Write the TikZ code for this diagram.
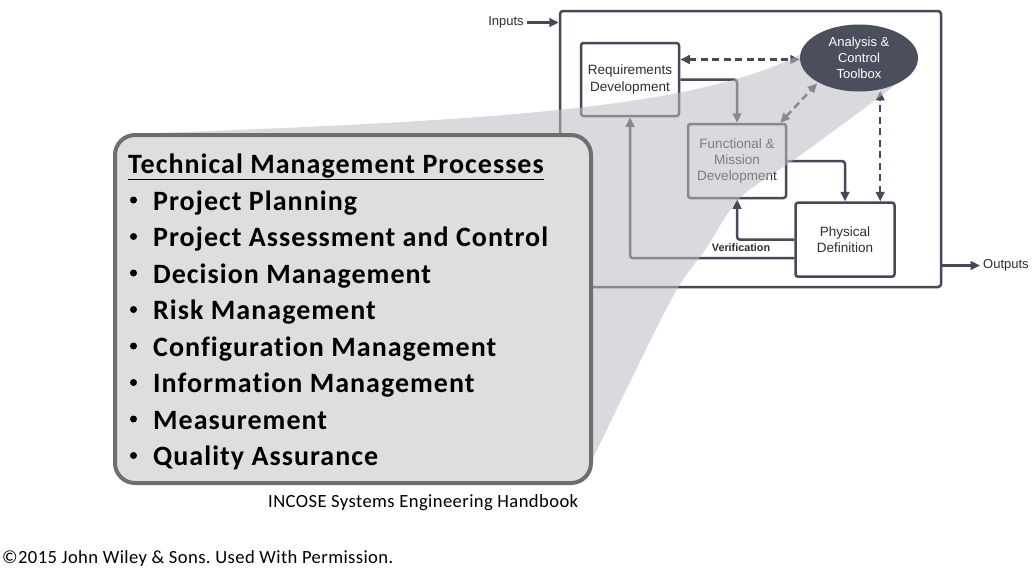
\documentclass[tikz,border=0pt]{standalone}
\usepackage{fontspec}
\setmainfont{Carlito}
\newfontfamily\arialf{Liberation Sans}
\newfontfamily\calw[LetterSpace=3.7,Ligatures=CommonOff]{Carlito}
\newfontfamily\calf[LetterSpace=2.2,Ligatures=CommonOff]{Carlito}
\usetikzlibrary{arrows.meta,shapes.geometric}
\frenchspacing
\definecolor{linec}{RGB}{70,73,86}
\definecolor{ellc}{RGB}{75,78,92}
\definecolor{txtc}{RGB}{45,45,50}
\definecolor{shadc}{RGB}{188,189,196}
\definecolor{boxfill}{RGB}{222,222,222}
\definecolor{boxline}{RGB}{110,110,110}
\tikzset{
  dbox/.style={draw=linec, line width=2.5pt, fill=white, rounded corners=2.5pt, align=center,
    font=\arialf\fontsize{13.5}{16.3}\selectfont, text=txtc, inner sep=0pt},
  arr/.style={draw=linec, line width=2.5pt, -{Triangle[length=9.5pt,width=8.5pt]}, rounded corners=3pt},
  darr/.style={draw=linec, line width=2.5pt, {Triangle[length=9.5pt,width=8.5pt]}-{Triangle[length=9.5pt,width=8.5pt]}, dash pattern=on 7pt off 4.5pt},
  lbl/.style={font=\arialf\fontsize{13}{16}\selectfont, text=txtc, inner sep=0pt},
  item/.style={font=\calw\bfseries\fontsize{28}{30}\selectfont, anchor=base west, inner sep=0pt},
  bul/.style={circle, fill=black, minimum size=7pt, inner sep=0pt},
}
\begin{document}
\frenchspacing
\begin{tikzpicture}[x=1pt,y=-1pt]
\useasboundingbox[fill=white] (0,0) rectangle (1032,568);
% outer frame
\node[draw=linec, line width=2.5pt, rounded corners=3pt, minimum width=381pt, minimum height=276pt, inner sep=0pt] (frame) at (750.5,149) {};
% inputs / outputs
\node[lbl] (inputs) at (506,22.5) {Inputs};
\draw[arr] (inputs.east) ++(3pt,0) -- (frame.west |- inputs);
\node[lbl, anchor=west] (outputs) at (983,265.5) {Outputs};
\draw[arr] (frame.east |- outputs) -- ([xshift=-3pt]outputs.west);
% boxes
\node[dbox, minimum width=98pt, minimum height=73pt] (req) at (630,79.5) {Requirements\\Development};
\node[dbox, minimum width=98pt, minimum height=74pt] (func) at (737,161) {Functional \&\\Mission\\Development};
\node[dbox, minimum width=99pt, minimum height=74pt] (phys) at (845,239.7) {Physical\\Definition};
% ellipse placeholder (for anchors)
\node[ellipse, minimum width=118pt, minimum height=67pt, inner sep=0pt] (tool) at (859,59.5) {};
% connectors
\draw[arr] (req.east) -| (func.north);
\draw[arr] (func.east) -| (phys.north);
\draw[arr] (phys.west) -| (func.south);
\draw[arr] ([yshift=-18.5pt]phys.west) -| (req.south);
\draw[darr] (req.east |- tool.west) -- (tool.west);
\draw[darr] ([xshift=-7pt]func.north east) -- (tool.south west);
\draw[darr] (phys.north -| tool.-56) -- (tool.-56);
% shadow cone
\fill[shadc, fill opacity=0.55] (160,133) .. controls (500,120) and (700,108) .. (805,52)
  -- (880,50) -- plot[smooth, tension=0.5] coordinates {(893,87) (798,157) (740,198) (705,250) (671,300) (593,458)}
  -- (300,300) -- cycle;
\node[font=\arialf\bfseries\fontsize{10.8}{12}\selectfont, text=txtc, inner sep=0pt] (verif) at (741,248) {Verification};
% ellipse
\node[ellipse, fill=ellc, minimum width=118pt, minimum height=67pt, inner sep=0pt, align=center,
  font=\arialf\fontsize{13}{16}\selectfont, text=white] (toolf) at (859,58) {Analysis \&\\Control\\Toolbox};
% big box
\node[draw=boxline, fill=boxfill, line width=4pt, rounded corners=20pt, minimum width=476pt, minimum height=348pt, inner sep=0pt] (tmp) at (353,309) {};
\node[item] (title) at (128,173) {\underline{Technical Management Processes}};
\foreach \t [count=\i] in {Project Planning, Project Assessment and Control, Decision Management, Risk Management, Configuration Management, Information Management, Measurement, Quality Assurance}{
  \node[bul] (b\i) at (133.5,{200+36.5*(\i-1)}) {};
  \node[item] (t\i) at (153,{210+36.5*(\i-1)}) {\t};
}
\node[font=\calf\fontsize{18.6}{20}\selectfont, anchor=base west, inner sep=0pt] (src) at (268,507) {INCOSE Systems Engineering Handbook};
\node[font=\calf\fontsize{18.6}{20}\selectfont, anchor=base west, inner sep=0pt] (copy) at (2,563) {©2015 John Wiley \& Sons. Used With Permission.};
\end{tikzpicture}
\end{document}
